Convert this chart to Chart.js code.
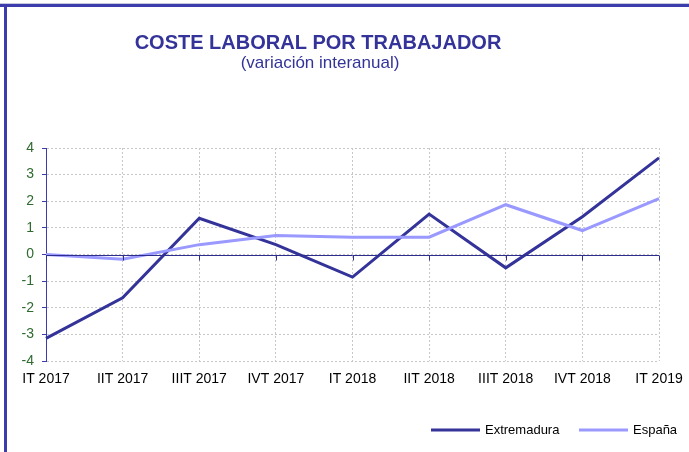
<!DOCTYPE html>
<html>
<head>
<meta charset="utf-8">
<script src="https://cdn.jsdelivr.net/npm/chart.js@4/dist/chart.umd.min.js"></script>
<style>
  html, body { margin: 0; padding: 0; background: #ffffff; }
  #wrap { width: 689px; height: 452px; position: relative; }
</style>
</head>
<body>
<div id="wrap"><canvas id="c" width="689" height="452"></canvas></div>
<script>
// Quarterly labels and year-on-year change (%) in labour cost per worker
const quarters = ['IT 2017', 'IIT 2017', 'IIIT 2017', 'IVT 2017', 'IT 2018', 'IIT 2018', 'IIIT 2018', 'IVT 2018', 'IT 2019'];
const extremadura = [-3.15, -1.63, 1.36, 0.37, -0.85, 1.52, -0.5, 1.42, 3.63];
const espana = [0.0, -0.18, 0.37, 0.71, 0.65, 0.65, 1.87, 0.9, 2.1];
const yTicks = [-4, -3, -2, -1, 0, 1, 2, 3, 4];

const titleText = 'COSTE LABORAL POR TRABAJADOR';
const subtitleText = '(variación interanual)';

const NAVY = '#333399';
const LILAC = '#9999ff';
const FONT = '"Liberation Sans", Arial, sans-serif';

// Frame, titles, zero axis with its ticks, and the legend
const decor = {
  id: 'decor',
  beforeDraw(chart) {
    const ctx = chart.ctx;
    ctx.save();
    ctx.fillStyle = '#ffffff';
    ctx.fillRect(0, 0, chart.width, chart.height);
    // outer frame
    ctx.fillStyle = '#c8c8dc';
    ctx.fillRect(0, 3, chart.width, 1);
    ctx.fillStyle = '#3c3cac';
    ctx.fillRect(0, 4, chart.width, 3);
    ctx.fillRect(4, 4, 3, chart.height - 4);
    ctx.restore();
  },
  afterDatasetsDraw(chart) {
    const ctx = chart.ctx;
    const x = chart.scales.x, y = chart.scales.y;
    const y0 = Math.round(y.getPixelForValue(0)) + 0.5;
    ctx.save();
    ctx.strokeStyle = '#2e2e8e';
    ctx.lineWidth = 1;
    ctx.beginPath();
    ctx.moveTo(chart.chartArea.left, y0);
    ctx.lineTo(chart.chartArea.right, y0);
    for (let i = 0; i < quarters.length; i++) {
      const px = Math.round(x.getPixelForValue(i)) + 0.5;
      ctx.moveTo(px, y0);
      ctx.lineTo(px, y0 + 5);
    }
    ctx.stroke();
    ctx.restore();
  },
  afterDraw(chart) {
    const ctx = chart.ctx;
    ctx.save();
    ctx.fillStyle = NAVY;
    ctx.textAlign = 'center';
    ctx.textBaseline = 'alphabetic';
    ctx.font = 'bold 20px ' + FONT;
    ctx.fillText(titleText, 318, 49);
    ctx.font = '17px ' + FONT;
    ctx.fillText(subtitleText, 320, 68);

    // legend
    const items = [
      { ds: chart.data.datasets[0], x: 431 },
      { ds: chart.data.datasets[1], x: 579 }
    ];
    ctx.textAlign = 'left';
    ctx.textBaseline = 'middle';
    ctx.font = '13px ' + FONT;
    items.forEach(it => {
      ctx.strokeStyle = it.ds.borderColor;
      ctx.lineWidth = 3;
      ctx.beginPath();
      ctx.moveTo(it.x, 430);
      ctx.lineTo(it.x + 49, 430);
      ctx.stroke();
      ctx.fillStyle = '#000000';
      ctx.fillText(it.ds.label, it.x + 54, 430);
    });
    ctx.restore();
  }
};

new Chart(document.getElementById('c'), {
  type: 'line',
  data: {
    labels: quarters,
    datasets: [
      { label: 'Extremadura', data: extremadura, borderColor: NAVY, backgroundColor: NAVY,
        borderWidth: 3, pointRadius: 0, tension: 0, order: 2 },
      { label: 'España', data: espana, borderColor: LILAC, backgroundColor: LILAC,
        borderWidth: 3, pointRadius: 0, tension: 0, order: 1 }
    ]
  },
  options: {
    responsive: false,
    animation: false,
    devicePixelRatio: 1,
    layout: { padding: { left: 6, top: 148, right: 30, bottom: 61 } },
    plugins: { legend: { display: false }, title: { display: false }, tooltip: { enabled: false } },
    scales: {
      x: {
        offset: false,
        grid: { color: '#c8c8c8', drawTicks: false, lineWidth: 1 },
        border: { display: false, dash: [2, 2] },
        ticks: { color: '#000000', font: { family: FONT, size: 14 }, padding: 10, maxRotation: 0, autoSkip: false },
        afterFit(s) { s.height = 30; s.paddingLeft = 0; s.paddingRight = 0; }
      },
      y: {
        min: -4, max: 4,
        afterBuildTicks(s) { s.ticks = yTicks.map(v => ({ value: v })); },
        grid: { color: '#c8c8c8', tickColor: '#3c3cac', tickLength: 4, tickBorderDash: [], drawTicks: true },
        border: { display: true, color: '#3c3cac', width: 1, dash: [2, 2] },
        ticks: { color: '#2f6a2f', font: { family: FONT, size: 14 }, padding: 8 },
        afterFit(s) { s.width = 40; s.paddingTop = 0; s.paddingBottom = 0; }
      }
    }
  },
  plugins: [decor]
});
</script>
</body>
</html>
